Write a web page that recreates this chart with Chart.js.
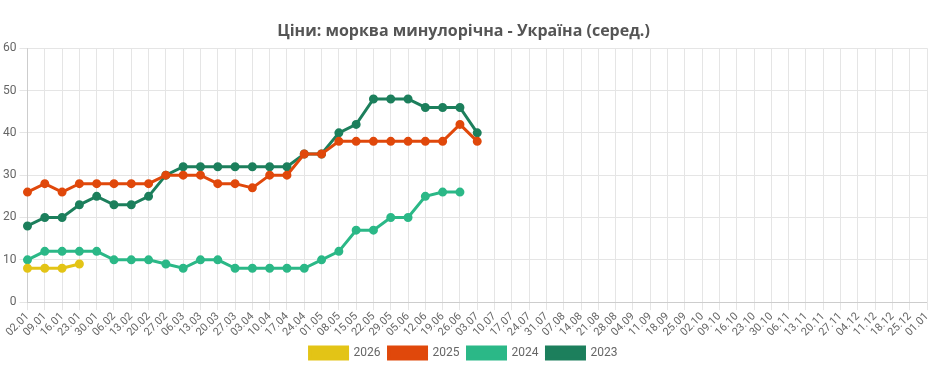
<!DOCTYPE html>
<html>
<head>
<meta charset="utf-8">
<script src="https://cdn.jsdelivr.net/npm/chart.js@4"></script>
<style>
  body { margin: 0; background: #fff; }
  .wrap { width: 941px; height: 371px; }
</style>
</head>
<body>
<div class="wrap"><canvas id="graph"></canvas></div>
<script>
const labels = ['02.01','09.01','16.01','23.01','30.01','06.02','13.02','20.02','27.02','06.03',
  '13.03','20.03','27.03','03.04','10.04','17.04','24.04','01.05','08.05','15.05','22.05','29.05',
  '05.06','12.06','19.06','26.06','03.07','10.07','17.07','24.07','31.07','07.08','14.08','21.08',
  '28.08','04.09','11.09','18.09','25.09','02.10','09.10','16.10','23.10','30.10','06.11','13.11',
  '20.11','27.11','04.12','11.12','18.12','25.12','01.01'];

const y2026 = [8, 8, 8, 9];
const y2025 = [26, 28, 26, 28, 28, 28, 28, 28, 30, 30, 30, 28, 28, 27, 30, 30, 35, 35, 38, 38, 38, 38, 38, 38, 38, 42, 38];
const y2024 = [10, 12, 12, 12, 12, 10, 10, 10, 9, 8, 10, 10, 8, 8, 8, 8, 8, 10, 12, 17, 17, 20, 20, 25, 26, 26];
const y2023 = [18, 20, 20, 23, 25, 23, 23, 25, 30, 32, 32, 32, 32, 32, 32, 32, 35, 35, 40, 42, 48, 48, 48, 46, 46, 46, 40];

function series(label, data, color) {
  return {
    label: label,
    data: data,
    borderColor: color,
    backgroundColor: color,
    borderWidth: 3,
    pointRadius: 3,
    pointBackgroundColor: color,
    pointBorderColor: color,
    tension: 0,
    fill: false
  };
}

const graph = document.getElementById('graph').getContext('2d');
let myChart = new Chart(graph, {
  type: 'line',
  data: {
    labels: labels,
    datasets: [
      series('2026', y2026, '#e3c416'),
      series('2025', y2025, '#e0480b'),
      series('2024', y2024, '#2bb887'),
      series('2023', y2023, '#1c7f5c')
    ]
  },
  options: {
    responsive: true,
    maintainAspectRatio: false,
    animation: false,
    layout: { padding: { right: 14, top: 0, left: 0, bottom: 2 } },
    plugins: {
      title: {
        display: true,
        text: 'Ціни: морква минулорічна - Україна (серед.)',
        color: '#555',
        font: { family: 'Open Sans', size: 16, weight: 'bold' },
        padding: { top: 22, bottom: 7 }
      },
      legend: {
        position: 'bottom',
        labels: {
          boxWidth: 38,
          boxHeight: 12,
          color: '#666',
          font: { family: 'Roboto', size: 12 },
          padding: 8
        }
      }
    },
    scales: {
      x: {
        grid: { color: '#e5e5e5' },
        ticks: {
          color: '#666',
          font: { family: 'Roboto', size: 11 },
          maxRotation: 45,
          minRotation: 45,
          autoSkip: false,
          padding: 0
        }
      },
      y: {
        min: 0,
        max: 60,
        grid: { color: '#e5e5e5' },
        ticks: {
          stepSize: 10,
          color: '#666',
          font: { family: 'Roboto', size: 12 }
        }
      }
    }
  }
});
</script>
</body>
</html>
